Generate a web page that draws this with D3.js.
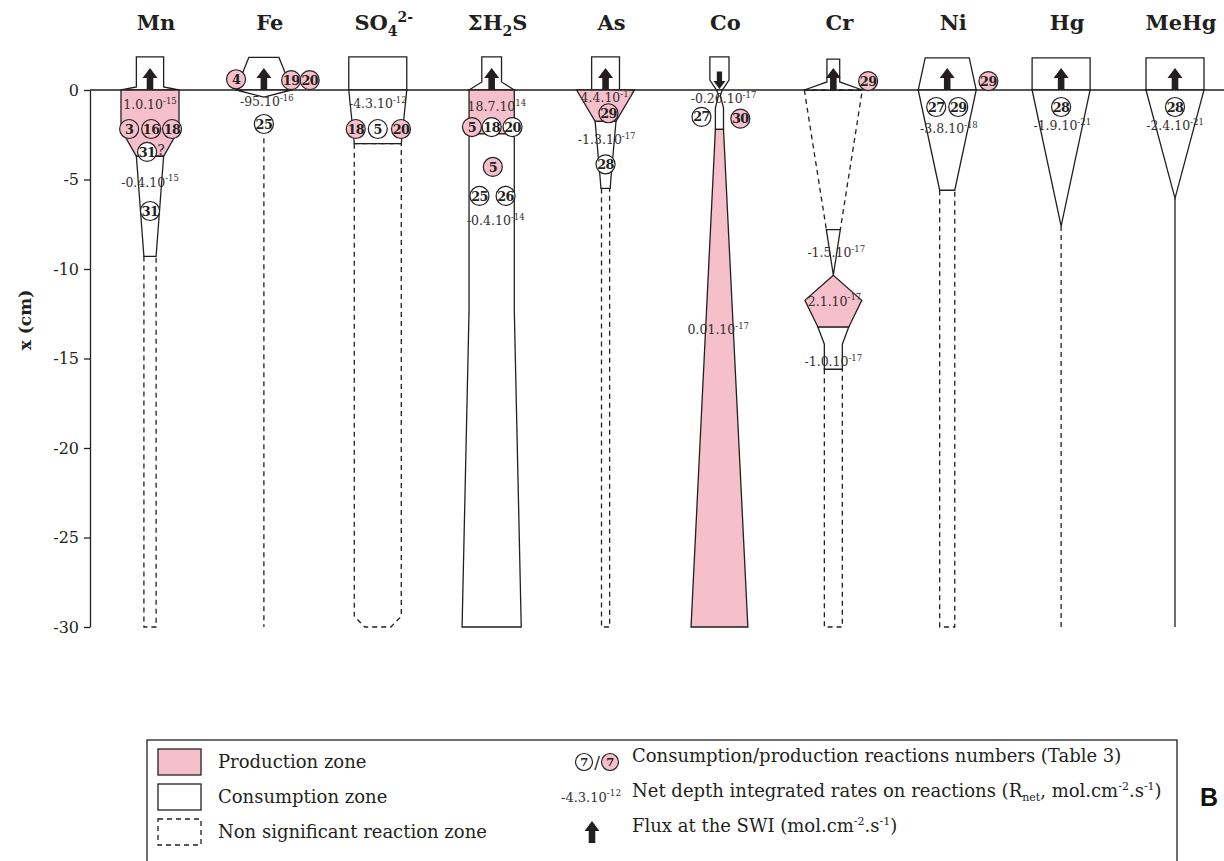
<!DOCTYPE html>
<html><head><meta charset="utf-8">
<script src="https://cdn.jsdelivr.net/npm/d3@7"></script>
<style>body{margin:0;background:#fff}svg{display:block}</style>
</head><body><svg id="c" width="1224" height="861"></svg>
<script>
// ---------- data ----------
const species = ["Mn","Fe","SO4","H2S","As","Co","Cr","Ni","Hg","MeHg"];
// title pieces: "" normal, "_" subscript, "^" superscript
const titles = [
  [["Mn",""]],[["Fe",""]],[["SO",""],["4","_"],["2-","^"]],[["ΣH",""],["2","_"],["S",""]],
  [["As",""]],[["Co",""]],[["Cr",""]],[["Ni",""]],[["Hg",""]],[["MeHg",""]]
];
const fluxDir = [1,1,0,1,1,-1,1,1,1,1];   // 1 up, -1 down, 0 none
const depthTicks = [0,-5,-10,-15,-20,-25,-30];
// flux box outlines above the SWI: [height (cm above SWI), relative width %]
const fluxShapes = {
  Mn:[[1.85,47],[0.17,47],[0,100]], Fe:[[1.82,52],[0,97]], SO4:[[1.85,100],[0,100]],
  H2S:[[1.85,34],[0.45,34],[0,78]], As:[[1.85,48],[0,48]], Co:[[1.85,33],[0.55,33],[0,10]],
  Cr:[[1.73,22],[0.45,22],[0,100]], Ni:[[1.8,76],[0,100]], Hg:[[1.8,100],[0,100]], MeHg:[[1.8,100],[0,100]]
};
// reaction zones: [depth cm, relative width %]
const zones = [
  {sp:"Mn",type:"ns",pts:[[-9.3,21],[-30,21]]},
  {sp:"Mn",type:"prod",pts:[[0,100],[-2.2,100],[-3.7,47]]},
  {sp:"Mn",type:"cons",pts:[[-3.7,47],[-9.3,21]]},
  {sp:"Fe",type:"ns",pts:[[-2.7,0],[-30,0]]},
  {sp:"Fe",type:"cons",pts:[[0,95],[-0.4,0]]},
  {sp:"SO4",type:"ns",pts:[[-3,81],[-29.4,81],[-30,45]]},
  {sp:"SO4",type:"cons",pts:[[0,100],[-3,81]]},
  {sp:"H2S",type:"prod",pts:[[0,78],[-2.45,78]]},
  {sp:"H2S",type:"cons",pts:[[-2.45,78],[-12.3,78],[-30,102]]},
  {sp:"As",type:"ns",pts:[[-5.5,14],[-30,14]]},
  {sp:"As",type:"prod",pts:[[0,100],[-1.75,36]]},
  {sp:"As",type:"cons",pts:[[-1.75,36],[-4.85,19],[-5.5,16]]},
  {sp:"Co",type:"cons",pts:[[0,10],[-0.3,3],[-1.0,14],[-2.2,14]]},
  {sp:"Co",type:"prod",pts:[[-2.2,14],[-30,98]]},
  {sp:"Cr",type:"ns",pts:[[0,100],[-7.8,24]]},
  {sp:"Cr",type:"ns",pts:[[-15.6,31],[-30,31]]},
  {sp:"Cr",type:"cons",pts:[[-7.8,24],[-10.35,0]]},
  {sp:"Cr",type:"prod",pts:[[-10.35,0],[-11.75,98],[-13.25,53]]},
  {sp:"Cr",type:"cons",pts:[[-13.25,53],[-14.2,31],[-15.6,31]]},
  {sp:"Ni",type:"ns",pts:[[-5.6,26],[-30,26]]},
  {sp:"Ni",type:"cons",pts:[[0,100],[-5.6,26]]},
  {sp:"Hg",type:"ns",pts:[[-7.6,0],[-30,0]]},
  {sp:"Hg",type:"cons",pts:[[0,100],[-7.6,0]]},
  {sp:"MeHg",type:"cons",pts:[[0,100],[-6.05,0]]},
  {sp:"MeHg",type:"cons",pts:[[-6.05,0],[-30,0]]}
];
// net depth integrated rates: mantissa, exponent
const rates = [
  {sp:"Mn",d:-0.84,o:0,m:"1.0.10",e:"-15"},{sp:"Mn",d:-5.15,o:0,m:"-0.4.10",e:"-15"},
  {sp:"Fe",d:-0.67,o:5,m:"-95.10",e:"-16"},
  {sp:"SO4",d:-0.78,o:0,m:"-4.3.10",e:"-12"},
  {sp:"H2S",d:-0.95,o:9,m:"18.7.10",e:"14"},{sp:"H2S",d:-7.3,o:7,m:"-0.4.10",e:"-14"},
  {sp:"As",d:-0.45,o:3,m:"4.4.10",e:"-17"},{sp:"As",d:-2.8,o:2,m:"-1.3.10",e:"-17"},
  {sp:"Co",d:-0.5,o:7,m:"-0.26.10",e:"-17"},{sp:"Co",d:-13.4,o:-2,m:"0.01.10",e:"-17"},
  {sp:"Cr",d:-9.1,o:5,m:"-1.5.10",e:"-17"},{sp:"Cr",d:-11.8,o:2,m:"2.1.10",e:"-17"},{sp:"Cr",d:-15.2,o:0,m:"-1.0.10",e:"-17"},
  {sp:"Ni",d:-2.15,o:3,m:"-3.8.10",e:"-18"},
  {sp:"Hg",d:-2.0,o:2,m:"-1.9.10",e:"-21"},
  {sp:"MeHg",d:-2.0,o:0,m:"-2.4.10",e:"-21"}
];
// reaction numbers (prod = production reaction)
const reactions = [
  {sp:"Mn",d:-2.18,o:-36,n:"3",prod:true},{sp:"Mn",d:-2.18,o:2,n:"16",prod:true},{sp:"Mn",d:-2.18,o:38,n:"18",prod:true},
  {sp:"Mn",d:-3.46,o:-5,n:"31",prod:false},{sp:"Mn",d:-6.76,o:0,n:"31",prod:false},
  {sp:"Fe",d:0.6,o:-48,n:"4",prod:true},{sp:"Fe",d:0.55,o:47,n:"19",prod:true},{sp:"Fe",d:0.55,o:79,n:"20",prod:true},
  {sp:"Fe",d:-1.9,o:0,n:"25",prod:false},
  {sp:"SO4",d:-2.18,o:-38,n:"18",prod:true},{sp:"SO4",d:-2.18,o:0,n:"5",prod:false},{sp:"SO4",d:-2.18,o:40,n:"20",prod:true},
  {sp:"H2S",d:-2.07,o:-34,n:"5",prod:true},{sp:"H2S",d:-2.07,o:0,n:"18",prod:false},{sp:"H2S",d:-2.07,o:36,n:"20",prod:false},
  {sp:"H2S",d:-4.3,o:2,n:"5",prod:true},{sp:"H2S",d:-5.92,o:-21,n:"25",prod:false},{sp:"H2S",d:-5.92,o:24,n:"26",prod:false},
  {sp:"As",d:-1.3,o:5,n:"29",prod:true},{sp:"As",d:-4.15,o:0,n:"28",prod:false},
  {sp:"Co",d:-1.5,o:-31,n:"27",prod:false},{sp:"Co",d:-1.6,o:36,n:"30",prod:true},
  {sp:"Cr",d:0.5,o:60,n:"29",prod:true},
  {sp:"Ni",d:0.5,o:71,n:"29",prod:true},{sp:"Ni",d:-0.95,o:-19,n:"27",prod:false},{sp:"Ni",d:-0.95,o:19,n:"29",prod:false},
  {sp:"Hg",d:-0.95,o:0,n:"28",prod:false},
  {sp:"MeHg",d:-0.95,o:0,n:"28",prod:false}
];
const notes = [{sp:"Mn",d:-3.35,o:19,t:"?"}];
const legendZones = [["prod","Production zone"],["cons","Consumption zone"],["ns","Non significant reaction zone"]];
const legendKeys = [
  "Consumption/production reactions numbers (Table 3)",
  "Net depth integrated rates on reactions (R|net|, mol.cm|-2|.s|-1|)",
  "Flux at the SWI (mol.cm|-2|.s|-1|)"
];

// ---------- drawing ----------
const PINK = "#f5bfcb", INK = "#231f20", SERIF = "'DejaVu Serif', serif";
const svg = d3.select("#c");
const y = d3.scaleLinear().domain([0,-30]).range([90,627]);
const x = d3.scalePoint().domain(species).range([150,1175]);
const w = d3.scaleLinear().domain([0,100]).range([0,58]);

// axis
const ax = svg.append("g").attr("transform","translate(90,0)")
  .call(d3.axisLeft(y).tickValues(depthTicks).tickSize(6).tickSizeOuter(0).tickPadding(5).tickFormat(d=>String(d)));
ax.select(".domain").attr("stroke",INK).attr("stroke-width",1.3);
ax.selectAll(".tick line").attr("stroke",INK).attr("stroke-width",1.3);
ax.selectAll(".tick text").attr("font-family",SERIF).attr("font-size",16).attr("fill",INK);
svg.append("text").attr("transform","translate(31,320) rotate(-90)").attr("text-anchor","middle")
  .attr("font-family",SERIF).attr("font-weight","bold").attr("font-size",17).attr("fill",INK).text("x (cm)");

// SWI line
svg.append("line").attr("x1",90).attr("x2",1224).attr("y1",y(0)).attr("y2",y(0)).attr("stroke",INK).attr("stroke-width",1.3);

// titles
species.forEach((s,i)=>{
  const t = svg.append("text").attr("x",x(s)+6).attr("y",30).attr("text-anchor","middle")
    .attr("font-family",SERIF).attr("font-weight","bold").attr("font-size",21).attr("fill",INK);
  let shift = 0;
  titles[i].forEach(([str,k])=>{
    let dy = 0, fs = 21;
    if(k==="_"){ dy = 6 - shift; shift = 6; fs = 14; }
    else if(k==="^"){ dy = -8 - shift; shift = -8; fs = 14; }
    else { dy = -shift; shift = 0; }
    t.append("tspan").attr("dy",dy).attr("font-size",fs).text(str);
  });
});

function outline(cx, pts){
  const L = pts.map(([d,wd])=>[cx - w(wd)/2, y(d)]);
  if(pts.every(p=>p[1]===0)) return d3.line()(L);
  const R = pts.map(([d,wd])=>[cx + w(wd)/2, y(d)]).reverse();
  return d3.line()(L.concat(R)) + "Z";
}

// flux boxes
species.forEach(s=>{
  svg.append("path").attr("d",outline(x(s),fluxShapes[s])).attr("fill","#fff").attr("stroke",INK).attr("stroke-width",1.3);
});

// zones (non significant first)
const order = {ns:0,prod:1,cons:1};
zones.slice().sort((a,b)=>order[a.type]-order[b.type]).forEach(z=>{
  svg.append("path").attr("d",outline(x(z.sp),z.pts))
    .attr("fill", z.type==="prod"?PINK:(z.type==="cons"?"#fff":"none"))
    .attr("stroke",INK).attr("stroke-width",1.3)
    .attr("stroke-dasharray", z.type==="ns"?"5,4":null);
});

// flux arrows
function arrow(g, cx, base, dir, s){
  s = s||1;
  const hw = 7.5*s, sw = 3.3*s, hh = 10*s, L = 22*s;
  let pts;
  if(dir>0){
    const tip = base - L;
    pts = [[cx-sw,base],[cx-sw,tip+hh],[cx-hw,tip+hh],[cx,tip],[cx+hw,tip+hh],[cx+sw,tip+hh],[cx+sw,base]];
  } else {
    const top = base - L;
    pts = [[cx-sw,top],[cx-sw,base-hh],[cx-hw,base-hh],[cx,base],[cx+hw,base-hh],[cx+sw,base-hh],[cx+sw,top]];
  }
  g.append("path").attr("d",d3.line()(pts)+"Z").attr("fill",INK);
}
species.forEach((s,i)=>{
  if(fluxDir[i]>0) arrow(svg, x(s), y(0), 1);
  else if(fluxDir[i]<0) arrow(svg, x(s), y(0)-1, -1, 0.8);
});

// rate labels
function rateText(g, cx, cy, m, e, fs, anchor){
  const t = g.append("text").attr("x",cx).attr("y",cy).attr("dy","0.35em").attr("text-anchor",anchor||"middle")
    .attr("font-family",SERIF).attr("font-size",fs).attr("fill","#333030");
  t.append("tspan").text(m);
  t.append("tspan").attr("dy",-fs*0.42).attr("font-size",fs*0.68).text(e);
  return t;
}
rates.forEach(r=> rateText(svg, x(r.sp)+w(r.o), y(r.d), r.m, r.e, 12.5));

notes.forEach(n=> svg.append("text").attr("x",x(n.sp)+w(n.o)).attr("y",y(n.d)).attr("dy","0.35em")
  .attr("text-anchor","middle").attr("font-family",SERIF).attr("font-size",14).attr("fill","#333030").text(n.t));

// reaction circles
function reac(g, cx, cy, n, prod, r){
  g.append("circle").attr("cx",cx).attr("cy",cy).attr("r",r).attr("fill",prod?PINK:"#fff").attr("stroke",INK).attr("stroke-width",1.2);
  g.append("text").attr("x",cx).attr("y",cy).attr("dy","0.36em").attr("text-anchor","middle")
    .attr("font-family",SERIF).attr("font-weight","bold").attr("font-size",r*1.35).attr("fill",INK)
    .attr("letter-spacing",-0.6).text(n);
}
reactions.forEach(r=> reac(svg, x(r.sp)+w(r.o), y(r.d), r.n, r.prod, 9.5));

// ---------- legend ----------
const lg = svg.append("g");
lg.append("rect").attr("x",147).attr("y",740).attr("width",1030).attr("height",140).attr("fill","none").attr("stroke",INK).attr("stroke-width",1.3);
const rowY = [762,797,832];
legendZones.forEach(([type,label],i)=>{
  lg.append("rect").attr("x",158).attr("y",rowY[i]-13).attr("width",43).attr("height",26)
    .attr("fill",type==="prod"?PINK:"#fff").attr("stroke",INK).attr("stroke-width",1.3)
    .attr("stroke-dasharray",type==="ns"?"5,4":null);
  lg.append("text").attr("x",218).attr("y",rowY[i]).attr("dy","0.35em").attr("font-family",SERIF)
    .attr("font-size",18).attr("fill",INK).text(label);
});
reac(lg, 584, rowY[0], "7", false, 8.5);
lg.append("text").attr("x",597).attr("y",rowY[0]).attr("dy","0.35em").attr("text-anchor","middle")
  .attr("font-family",SERIF).attr("font-size",17).attr("fill",INK).text("/");
reac(lg, 610, rowY[0], "7", true, 8.5);
rateText(lg, 621, rowY[1], "-4.3.10", "-12", 13, "end");
arrow(lg, 592, rowY[2]+11, 1);
legendKeys.forEach((k,i)=>{
  const t = lg.append("text").attr("x",632).attr("y",rowY[i]).attr("dy","0.35em").attr("font-family",SERIF)
    .attr("font-size",18).attr("fill",INK);
  let sub = 0;
  k.split("|").forEach((part,j)=>{
    if(j%2===0){ t.append("tspan").attr("dy",-sub).attr("font-size",18).text(part); sub=0; }
    else {
      const isSub = /^[a-z]/.test(part);
      const dy = isSub ? 4 : -7;
      t.append("tspan").attr("dy",dy - sub).attr("font-size",11).text(part); sub = dy;
    }
  });
});
lg.append("text").attr("x",1200).attr("y",806).attr("font-family","'Liberation Sans', Arial, sans-serif")
  .attr("font-weight","bold").attr("font-size",25).attr("fill","#111").text("B");
</script></body></html>
